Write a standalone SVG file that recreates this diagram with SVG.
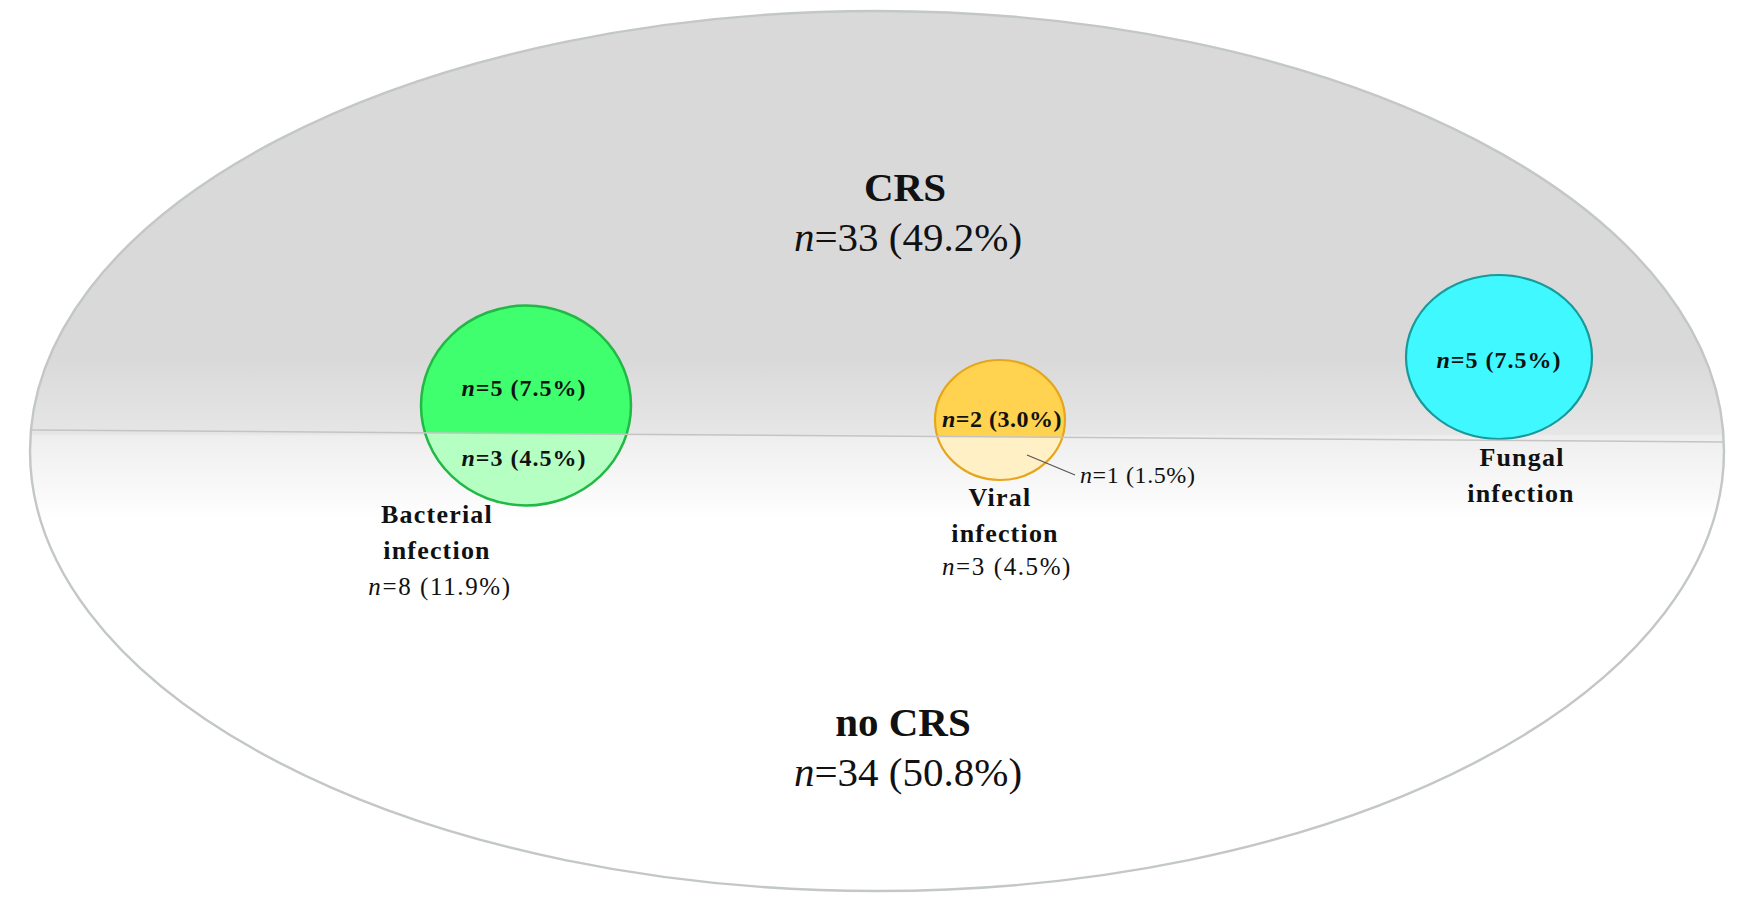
<svg xmlns="http://www.w3.org/2000/svg" width="1755" height="914" viewBox="0 0 1755 914">
  <style>
    text { font-family: "Liberation Serif", "Times New Roman", serif; fill: #111; text-anchor: middle; }
    .big { font-size: 41px; }
    .inner { font-size: 24px; font-weight: bold; letter-spacing: 1px; }
    .lab { font-size: 26px; font-weight: bold; letter-spacing: 1.2px; }
    .val { font-size: 25px; letter-spacing: 1.6px; }
    .i { font-style: italic; }
    .divider { stroke: #c4c4c4; stroke-width: 1.5; fill: none; }
  </style>
  <defs>
    <linearGradient id="bg" gradientUnits="userSpaceOnUse" x1="0" y1="0" x2="0" y2="914">
      <stop offset="0" stop-color="#d9d9d9"/>
      <stop offset="0.39" stop-color="#d9d9d9"/>
      <stop offset="0.475" stop-color="#e6e6e6"/>
      <stop offset="0.477" stop-color="#eeeeee"/>
      <stop offset="0.57" stop-color="#ffffff"/>
      <stop offset="1" stop-color="#ffffff"/>
    </linearGradient>
    <clipPath id="clipB"><ellipse cx="526" cy="405.5" rx="105" ry="100"/></clipPath>
    <clipPath id="clipV"><ellipse cx="1000" cy="420" rx="65" ry="60"/></clipPath>
  </defs>

  <g id="population">
    <ellipse cx="877" cy="451" rx="847" ry="440" fill="url(#bg)" stroke="#c3c7c7" stroke-width="2.4"/>
    <text class="big" x="905" y="201" font-weight="bold">CRS</text>
    <text class="big" x="908" y="251"><tspan class="i">n</tspan>=33 (49.2%)</text>
    <text class="big" x="903" y="736" font-weight="bold">no CRS</text>
    <text class="big" x="908" y="786"><tspan class="i">n</tspan>=34 (50.8%)</text>
  </g>

  <g id="bacterial">
    <ellipse cx="526" cy="405.5" rx="105" ry="100" fill="#3fff6f"/>
    <polygon points="400,432.7 660,434.6 660,520 400,520" fill="#b6ffc3" clip-path="url(#clipB)"/>
    <ellipse cx="526" cy="405.5" rx="105" ry="100" fill="none" stroke="#22b845" stroke-width="2.5"/>
    <text class="inner" x="524" y="396"><tspan class="i">n</tspan>=5 (7.5%)</text>
    <text class="inner" x="524" y="466"><tspan class="i">n</tspan>=3 (4.5%)</text>
    <text class="lab" x="437" y="523">Bacterial</text>
    <text class="lab" x="437" y="559">infection</text>
    <text class="val" x="440" y="595"><tspan class="i">n</tspan>=8 (11.9%)</text>
  </g>

  <g id="viral">
    <ellipse cx="1000" cy="420" rx="65" ry="60" fill="#ffd24f"/>
    <polygon points="920,436.2 1080,437.3 1080,490 920,490" fill="#fff0c6" clip-path="url(#clipV)"/>
    <ellipse cx="1000" cy="420" rx="65" ry="60" fill="none" stroke="#e6a61c" stroke-width="2.2"/>
    <text class="inner" x="1002" y="427" style="letter-spacing:0.5px">
      <tspan class="i">n</tspan>=2 (3.0%)</text>
    <text x="1080" y="483" style="text-anchor:start; font-size:24px; letter-spacing:0.6px"><tspan class="i">n</tspan>=1 (1.5%)</text>
    <text class="lab" x="1000" y="506">Viral</text>
    <text class="lab" x="1005" y="542">infection</text>
    <text class="val" x="1007" y="575"><tspan class="i">n</tspan>=3 (4.5%)</text>
  </g>

  <g id="fungal">
    <ellipse cx="1499" cy="357" rx="93" ry="82" fill="#40f8ff" stroke="#189a9a" stroke-width="2.2"/>
    <text class="inner" x="1499" y="368"><tspan class="i">n</tspan>=5 (7.5%)</text>
    <text class="lab" x="1522" y="466">Fungal</text>
    <text class="lab" x="1521" y="502">infection</text>
  </g>

  <g id="connectors">
    <line class="divider" x1="31" y1="430" x2="1723" y2="442"/>
    <line x1="1027" y1="455" x2="1075" y2="475" stroke="#555" stroke-width="1.2"/>
  </g>
</svg>
